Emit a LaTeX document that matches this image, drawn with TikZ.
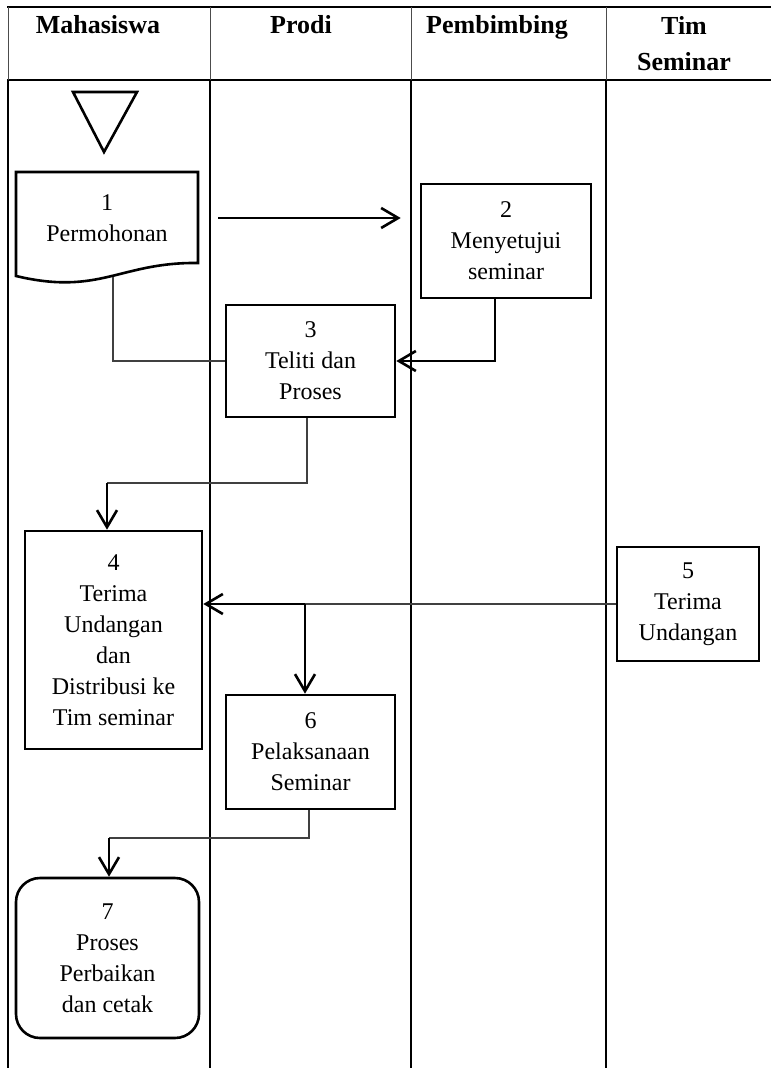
\documentclass[tikz,border=0pt]{standalone}
\usepackage{fontspec}
\setmainfont{Liberation Serif}
\usetikzlibrary{arrows.meta}

\begin{document}
\begin{tikzpicture}[x=0.5pt,y=-0.5pt,
    box/.style={draw,line width=1.3pt,align=center,inner sep=0pt,font=\fontsize{12}{15.5}\selectfont},
    head/.style={align=center,inner sep=0pt,font=\fontsize{13}{18}\selectfont\bfseries},
    frame/.style={line width=1.3pt},
    sep/.style={line width=0.5pt,black!70},
    thinline/.style={line width=0.6pt,black!75},
    arrow/.style={line width=1.3pt,-{Straight Barb[length=8.5pt,width=10pt]}}]
    \useasboundingbox (0,0) rectangle (771,1068);
    \draw[frame] (7,7) -- (771,7);
    \draw[frame] (7,80) -- (771,80);
    \draw[sep] (8,7) -- (8,80);
    \draw[sep] (210,7) -- (210,80);
    \draw[sep] (411,7) -- (411,80);
    \draw[sep] (606,7) -- (606,80);
    \draw[frame] (8,80) -- (8,1068);
    \draw[frame] (210,80) -- (210,1068);
    \draw[frame] (411,80) -- (411,1068);
    \draw[frame] (606,80) -- (606,1068);
    \node[head,anchor=base] (hmhs) at (98,34) {Mahasiswa};
    \node[head,anchor=base] (hprodi) at (301,34) {Prodi};
    \node[head,anchor=base] (hpmb) at (497,34) {Pembimbing};
    \node[head] (htim) at (684,44) {Tim\\Seminar};
    \draw[line width=1.3pt] (73,92) -- (137,92) -- (104,152) -- cycle;
    \node[align=center,inner sep=0pt,minimum width=91pt,font=\fontsize{12}{15.5}\selectfont] (p1) at (107,218) {1\\Permohonan};
    \draw[line width=1.3pt] (16,172) -- (198,172) -- (198,263) .. controls (120,262) and (100,296) .. (16,276) -- cycle;
    \coordinate (p1foot) at (113,277);
    \node[box,minimum width=85pt,minimum height=57pt] (b2) at (506,241) {2\\Menyetujui\\seminar};
    \node[box,minimum width=84.5pt,minimum height=56pt] (b3) at (310.5,361) {3\\Teliti dan\\Proses};
    \node[box,minimum width=88.5pt,minimum height=109pt] (b4) at (113.5,640) {4\\Terima\\Undangan\\dan\\Distribusi ke\\Tim seminar};
    \node[box,minimum width=71pt,minimum height=57pt] (b5) at (688,604) {5\\Terima\\Undangan};
    \node[box,minimum width=84.5pt,minimum height=57pt] (b6) at (310.5,752) {6\\Pelaksanaan\\Seminar};
    \node[box,rounded corners=12pt,minimum width=91.5pt,minimum height=80pt] (b7) at (107.5,958) {7\\Proses\\Perbaikan\\dan cetak};
    \coordinate (j1) at (107,483);
    \coordinate (j2) at (305,604);
    \coordinate (j3) at (109,838);
    \draw[arrow,shorten <=10pt,shorten >=9.5pt] (p1.east) -- (p1.east -| b2.west);
    \draw[thinline] (p1foot) |- (b3.west);
    \draw[arrow] ([xshift=-5.5pt]b2.south) |- (b3.east);
    \draw[thinline] ([xshift=-1.75pt]b3.south) |- (j1);
    \draw[arrow] (j1) -- (j1 |- b4.north);
    \draw[thinline] (b5.west) -- (j2);
    \draw[arrow] (j2) -- (j2 -| b4.east);
    \draw[arrow] (j2) -- (j2 |- b6.north);
    \draw[thinline] ([xshift=-0.75pt]b6.south) |- (j3);
    \draw[arrow] (j3) -- (j3 |- b7.north);
\end{tikzpicture}
\end{document}
